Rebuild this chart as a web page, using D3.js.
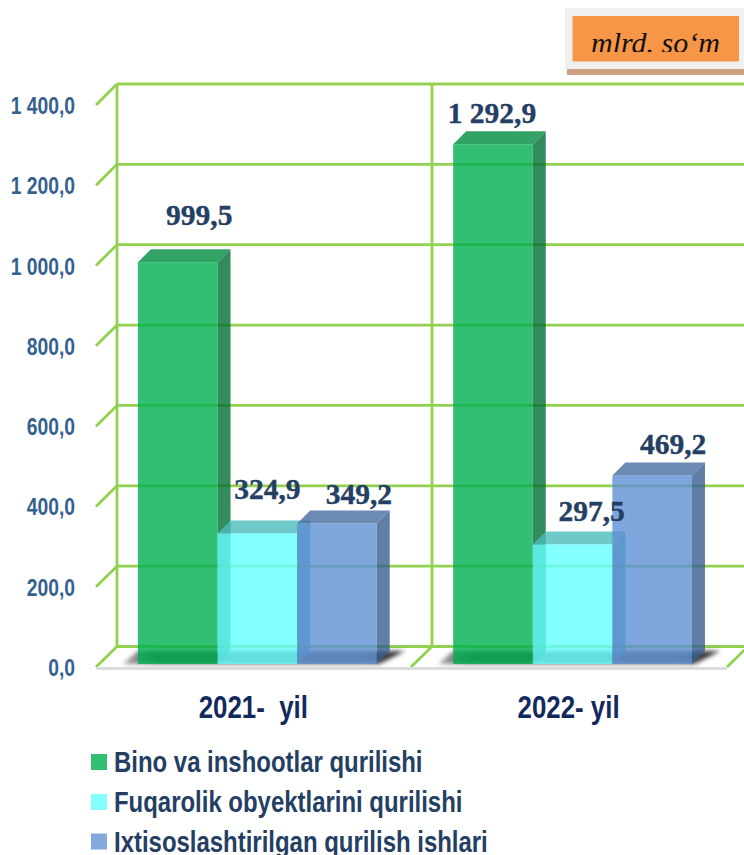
<!DOCTYPE html>
<html>
  <head>
    <title>Qurilish ishlari</title>
    <script src="https://d3js.org/d3.v7.min.js"></script>
    <style>
      body { margin: 0; background: #fff; }
      svg { display: block; }
      .narrow { font-family: "Liberation Sans", sans-serif; font-weight: bold; }
      .serif { font-family: "Liberation Serif", serif; }
    </style>
  </head>
  <body>
    <svg width="744" height="855"></svg>
    <script>
      const years = ["2021", "2022"];
      const yearLabels = ["2021-  yil", "2022- yil"];
      const seriesNames = ["Bino va inshootlar qurilishi", "Fuqarolik obyektlarini qurilishi", "Ixtisoslashtirilgan qurilish ishlari"];
      const binoValues = [999.5, 1292.9];
      const fuqarolikValues = [324.9, 297.5];
      const ixtisosValues = [349.2, 469.2];
      const yTicks = [0, 200, 400, 600, 800, 1000, 1200, 1400];
      const unitLabel = "mlrd. so‘m";

      const seriesValues = [binoValues, fuqarolikValues, ixtisosValues];
      const frontColors = ["#00af50", "#65ffff", "#5e90d3"];
      const sideColors = ["#016f33", "#3fa8a8", "#3a5e90"];
      const topColors = ["#008b40", "#4bbcbc", "#476da0"];
      const legendColors = ["#33bf73", "#84ffff", "#84a9dd"];
      const gridColor = "#92d050";
      const textColor = "#243f63";
      const tickColor = "#35618f";
      const depth = 13;   // bar depth
      const wall = 21;    // depth of the chart box

      // label offsets from the top centre of each bar, [series][year]
      const labelNudge = [
        [[21.5, -37], [-1, -21]],
        [[10, -34], [19, -23]],
        [[22, -20], [21, -21]]
      ];

      const svg = d3.select("svg");
      const defs = svg.append("defs");
      defs.append("filter").attr("id", "soft")
          .attr("x", "-5%").attr("width", "110%").attr("y", "-30%").attr("height", "160%")
        .append("feGaussianBlur").attr("stdDeviation", 2);
      const shade = defs.append("linearGradient").attr("id", "shade");
      shade.append("stop").attr("offset", "0%").attr("stop-color", "#a8a8a8");
      shade.append("stop").attr("offset", "12%").attr("stop-color", "#5a5a5a");
      shade.append("stop").attr("offset", "85%").attr("stop-color", "#5a5a5a");
      shade.append("stop").attr("offset", "100%").attr("stop-color", "#2a2a2a");
      defs.append("clipPath").attr("id", "unit-clip")
        .append("rect").attr("x", 572).attr("y", 16).attr("width", 167).attr("height", 36);

      const comma = d3.formatLocale({decimal: ",", thousands: " ", grouping: [3], currency: ["", ""]}).format(",.1f");

      // no Arial Narrow here, so squeeze the sans to the same width
      function squeeze(sel) {
        sel.each(function() {
          const len = this.getComputedTextLength();
          d3.select(this).attr("textLength", len * 0.82).attr("lengthAdjust", "spacingAndGlyphs");
        });
      }

      const x = d3.scaleBand().domain(years).range([99.7, 730.2]).paddingInner(0.2425).paddingOuter(0.12125);
      const xSeries = d3.scaleBand().domain(d3.range(seriesValues.length)).range([0, x.bandwidth()]);
      const yBar = d3.scaleLinear().domain([0, 1400]).range([664, 101.2]);
      const yFront = d3.scaleLinear().domain([0, 1400]).range([667, 105]);
      const yBack = d3.scaleLinear().domain([0, 1400]).range([646.5, 84]);
      const wallLeft = 117;
      const wallMid = 432;
      const floorEnd = 727;

      // back wall and floor
      const gridG = svg.append("g").attr("fill", "none").attr("stroke", gridColor).attr("stroke-width", 2.8);
      gridG.selectAll(".h").data(yTicks).join("line").attr("class", "h")
          .attr("x1", wallLeft).attr("x2", 744)
          .attr("y1", d => yBack(d)).attr("y2", d => yBack(d));
      gridG.selectAll(".d").data(yTicks).join("line").attr("class", "d")
          .attr("x1", wallLeft - wall).attr("x2", wallLeft)
          .attr("y1", d => yFront(d)).attr("y2", d => yBack(d));
      gridG.selectAll(".v").data([wallLeft, wallMid]).join("line").attr("class", "v")
          .attr("x1", d => d).attr("x2", d => d)
          .attr("y1", yBack(1400)).attr("y2", yBack(0));
      gridG.selectAll(".f").data([wallMid, floorEnd + wall]).join("line").attr("class", "f")
          .attr("x1", d => d - wall).attr("x2", d => d)
          .attr("y1", yFront(0)).attr("y2", yBack(0));

      svg.append("line")
          .attr("x1", wallLeft - wall).attr("x2", floorEnd)
          .attr("y1", yFront(0) + 1.5).attr("y2", yFront(0) + 1.5)
          .attr("stroke", "#dcdcdc").attr("stroke-width", 3);

      // shadow lying on the floor
      svg.append("g").attr("filter", "url(#soft)")
        .selectAll("polygon").data(years).join("polygon")
          .attr("fill", "url(#shade)")
          .attr("points", d => {
            const x0 = x(d), x1 = x(d) + x.bandwidth();
            const yb = yBar(0);
            return [[x0 - 15, yb], [x1 + 3, yb], [x1 + 28, yb - depth], [x0, yb - depth]].join(" ");
          });

      // bars, one series after the other so each shows through the next
      const barsG = svg.append("g");
      seriesValues.forEach((values, s) => {
        const g = barsG.append("g").attr("fill-opacity", 0.8);
        const bar = g.selectAll("g").data(values).join("g");
        const bx = (d, i) => x(years[i]) + xSeries(s);
        const w = xSeries.bandwidth();
        bar.append("polygon").attr("fill", sideColors[s])
            .attr("points", (d, i) => {
              const r = bx(d, i) + w;
              return [[r, yBar(d)], [r + depth, yBar(d) - depth], [r + depth, yBar(0) - depth], [r, yBar(0)]].join(" ");
            });
        bar.append("polygon").attr("fill", topColors[s])
            .attr("points", (d, i) => {
              const l = bx(d, i);
              return [[l, yBar(d)], [l + depth, yBar(d) - depth], [l + w + depth, yBar(d) - depth], [l + w, yBar(d)]].join(" ");
            });
        bar.append("rect").attr("fill", frontColors[s])
            .attr("x", bx).attr("width", w)
            .attr("y", d => yBar(d)).attr("height", d => yBar(0) - yBar(d));
      });

      // value labels
      seriesValues.forEach((values, s) => {
        svg.append("g").attr("class", "serif").selectAll("text").data(values).join("text")
            .attr("x", (d, i) => x(years[i]) + xSeries(s) + xSeries.bandwidth() / 2 + labelNudge[s][i][0])
            .attr("y", (d, i) => yBar(d) + labelNudge[s][i][1])
            .attr("text-anchor", "middle")
            .attr("font-size", 29.5).attr("font-weight", "bold")
            .attr("fill", textColor).attr("stroke", textColor).attr("stroke-width", 0.4)
            .text(d => comma(d));
      });

      // value axis
      const axisG = svg.append("g").attr("transform", "translate(75,1)")
          .call(d3.axisLeft(yFront).tickValues(yTicks).tickSize(0).tickPadding(0).tickFormat(comma));
      axisG.select(".domain").remove();
      axisG.selectAll("text").attr("class", "narrow").attr("font-size", 23.5).attr("fill", tickColor).call(squeeze);

      // year labels
      svg.append("g").selectAll("text").data(years).join("text")
          .attr("class", "narrow")
          .attr("x", d => x(d) + x.bandwidth() / 2 - 4)
          .attr("y", 718)
          .attr("text-anchor", "middle")
          .style("white-space", "pre")
          .attr("font-size", 31.5).attr("fill", "#12295c")
          .text((d, i) => yearLabels[i])
          .call(squeeze);

      // legend
      const legendRows = [762, 802, 841.5];
      const legend = svg.append("g").selectAll("g").data(seriesNames).join("g")
          .attr("transform", (d, i) => `translate(91,${legendRows[i]})`);
      legend.append("rect").attr("y", -8).attr("width", 16).attr("height", 16)
          .attr("fill", (d, i) => legendColors[i]);
      legend.append("text").attr("class", "narrow").attr("x", 23).attr("y", 10)
          .attr("font-size", 29.2).attr("fill", textColor)
          .text(d => d)
          .call(squeeze);

      // unit box
      const unit = svg.append("g");
      unit.append("rect").attr("x", 567).attr("y", 69).attr("width", 177).attr("height", 6).attr("fill", "#cda183");
      unit.append("rect").attr("x", 565).attr("y", 8).attr("width", 179).attr("height", 61).attr("fill", "#f0f0f0");
      unit.append("rect").attr("x", 572.5).attr("y", 16).attr("width", 166.5).attr("height", 45.5).attr("fill", "#f79646");
      unit.append("text").attr("class", "serif").attr("clip-path", "url(#unit-clip)")
          .attr("x", 655.5).attr("y", 52.5)
          .attr("text-anchor", "middle")
          .attr("font-size", 30).attr("font-style", "italic").attr("fill", "#111")
          .text(unitLabel);
    </script>
  </body>
</html>
